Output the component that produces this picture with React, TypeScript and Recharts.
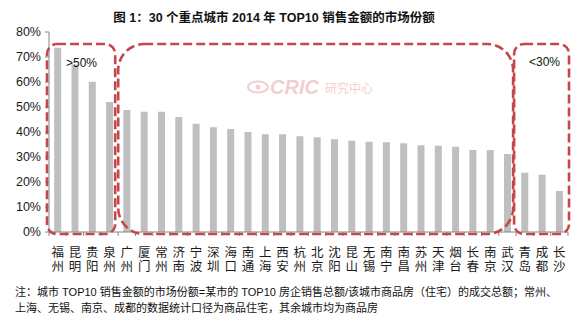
import React from 'react';
import { BarChart, Bar, XAxis, YAxis } from 'recharts';

const cities = [
  '福州', '昆明', '贵阳', '泉州', '广州', '厦门', '常州', '济南', '宁波', '深圳',
  '海口', '南通', '上海', '西安', '杭州', '北京', '沈阳', '昆山', '无锡', '南宁',
  '南昌', '苏州', '天津', '烟台', '长春', '南京', '武汉', '青岛', '成都', '长沙',
];
const shares = [
  73.7, 67.0, 60.1, 52.0, 48.8, 48.1, 48.1, 46.0, 43.3, 41.9,
  41.2, 40.0, 39.1, 39.1, 38.3, 37.9, 37.1, 36.5, 36.1, 35.9,
  35.5, 34.7, 34.5, 34.1, 32.8, 32.8, 31.2, 23.7, 22.9, 16.4,
];
const yTicks = [0, 10, 20, 30, 40, 50, 60, 70, 80];

const data = cities.map((name, i) => ({ name, value: shares[i] }));

const FONT = '"Liberation Sans", Arial, "Noto Sans CJK SC", sans-serif';
const AXIS = '#868686';
const BOX = '#c5474a';

// plot geometry
const PLOT_LEFT = 49;
const PLOT_RIGHT = 568;
const PLOT_TOP = 32;
const PLOT_BOTTOM = 232;
const BAND = (PLOT_RIGHT - PLOT_LEFT) / cities.length;

const CityTick = (props: any) => {
  const { x, y, payload, index } = props;
  const half = payload && payload.offset ? payload.offset : BAND / 2;
  const chars = String(payload.value).split('');
  return (
    <g>
      <line x1={x - half} y1={PLOT_BOTTOM} x2={x - half} y2={PLOT_BOTTOM + 4} stroke={AXIS} />
      {index === cities.length - 1 && (
        <line x1={x + half} y1={PLOT_BOTTOM} x2={x + half} y2={PLOT_BOTTOM + 4} stroke={AXIS} />
      )}
      {chars.map((c, k) => (
        <text key={k} x={x} y={y + 17 + k * 13.5} textAnchor="middle" fontSize={12.5} fill="#1a1a1a" fontFamily={FONT}>
          {c}
        </text>
      ))}
    </g>
  );
};

// dashed group boxes: [first index, last index, radius]
const groups: [number, number, number][] = [
  [0, 3, 10],
  [4, 26, 26],
  [27, 29, 10],
];

const App = () => {
  return (
    <div style={{ position: 'absolute', left: 0, top: 0, width: 581, height: 327, background: '#fff', fontFamily: FONT }}>
      <div style={{ position: 'absolute', left: 0, top: 7, width: 548, textAlign: 'center', fontSize: 12.5, fontWeight: 'bold', color: '#111' }}>
        图 1：30 个重点城市 2014 年 TOP10 销售金额的市场份额
      </div>

      <div style={{ position: 'absolute', left: 0, top: 0 }}>
        <BarChart
          width={581}
          height={280}
          data={data}
          margin={{ top: PLOT_TOP, right: 581 - PLOT_RIGHT, bottom: 8, left: 9 }}
          barCategoryGap="30%"
        >
          <XAxis
            dataKey="name"
            interval={0}
            axisLine={{ stroke: AXIS }}
            tickLine={false}
            height={40}
            tick={<CityTick />}
          />
          <YAxis
            type="number"
            domain={[0, 80]}
            ticks={yTicks}
            interval={0}
            width={40}
            axisLine={{ stroke: AXIS }}
            tickLine={{ stroke: AXIS }}
            tickSize={4}
            tickMargin={4}
            tickFormatter={(v: number) => `${v}%`}
            tick={{ fill: '#1a1a1a', fontSize: 12.5, fontFamily: FONT }}
          />
          <Bar dataKey="value" fill="#bfbfbf" isAnimationActive={false} />
        </BarChart>
      </div>

      <svg width={581} height={327} style={{ position: 'absolute', left: 0, top: 0, pointerEvents: 'none' }}>
        {/* watermark */}
        <g opacity={0.55}>
          <ellipse cx={258} cy={87} rx={10} ry={5.5} fill="none" stroke="#e9a9a9" strokeWidth={2} />
          <circle cx={258} cy={87} r={2.5} fill="#e9a9a9" />
          <text x={270} y={94} fontSize={20} fontWeight="bold" fontStyle="italic" fill="#e9a9a9" fontFamily={FONT}>CRIC</text>
          <text x={325} y={93} fontSize={12} fill="#e9a9a9" fontFamily='"Noto Sans CJK SC", sans-serif'>研究中心</text>
        </g>
        {groups.map(([a, b, r], i) => {
          const x1 = PLOT_LEFT + a * BAND - 2;
          const x2 = PLOT_LEFT + (b + 1) * BAND + (i === 2 ? 1 : -3);
          return (
            <rect
              key={i}
              x={x1 + (i === 1 ? 2 : 0)}
              y={44}
              width={x2 - x1 - (i === 1 ? 2 : 0)}
              height={190}
              rx={r}
              ry={r}
              fill="none"
              stroke={BOX}
              strokeWidth={2.6}
              strokeDasharray="9 4"
            />
          );
        })}
        <text x={66} y={67} fontSize={12} fill="#111" fontFamily={FONT}>&gt;50%</text>
        <text x={529} y={66} fontSize={12} fill="#111" fontFamily={FONT}>&lt;30%</text>
      </svg>

      <div style={{ position: 'absolute', left: 15, top: 284, fontSize: 11, lineHeight: '16px', color: '#111', width: 560 }}>
        <div>注：城市 TOP10 销售金额的市场份额=某市的 TOP10 房企销售总额/该城市商品房（住宅）的成交总额；常州、</div>
        <div>上海、无锡、南京、成都的数据统计口径为商品住宅，其余城市均为商品房</div>
      </div>
    </div>
  );
};

export default App;
